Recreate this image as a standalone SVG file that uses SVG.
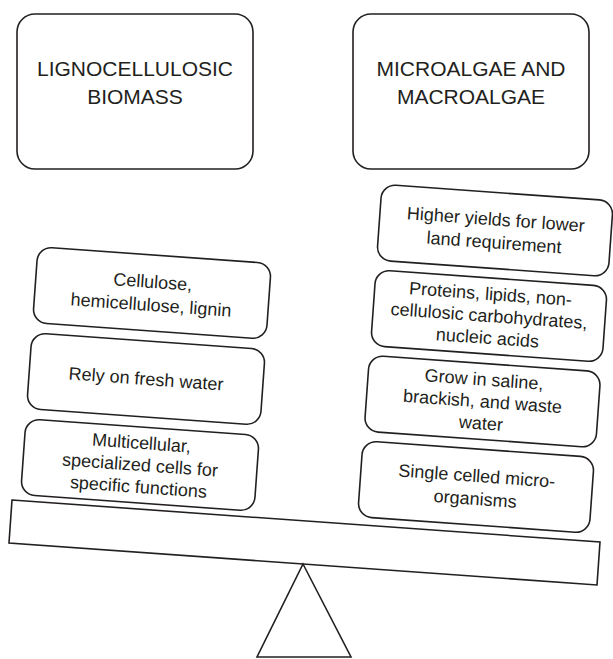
<svg xmlns="http://www.w3.org/2000/svg" width="613" height="659" viewBox="0 0 613 659">
<style>
.box{fill:#fff;stroke:#231f20;stroke-width:1.6}
.t{font-family:"Liberation Sans",Arial,sans-serif;fill:#231f20;text-anchor:middle}
.title{font-size:21px}
.s{font-size:18px}
</style>
<rect width="613" height="659" fill="#fff"/>
<g id="title-left">
<rect class="box" x="17" y="14" width="236" height="155" rx="18"/>
<text class="t title" x="135" y="76">LIGNOCELLULOSIC</text>
<text class="t title" x="135" y="104">BIOMASS</text>
</g>
<g id="title-right">
<rect class="box" x="353" y="14" width="236" height="155" rx="18"/>
<text class="t title" x="471" y="76">MICROALGAE AND</text>
<text class="t title" x="471" y="104">MACROALGAE</text>
</g>
<g id="beam">
<polygon class="box" points="12,500 600,542 597,585 9,543"/>
</g>
<g id="fulcrum">
<polygon class="box" points="303,564 351,657 257,657"/>
</g>
<g id="left-1" transform="translate(152,293) rotate(4.1)">
<rect class="box" x="-117" y="-38" width="234" height="76" rx="14"/>
<text class="t s" x="0" y="-5">Cellulose,</text>
<text class="t s" x="0" y="18">hemicellulose, lignin</text>
</g>
<g id="left-2" transform="translate(146,379) rotate(4.1)">
<rect class="box" x="-117" y="-38" width="234" height="76" rx="14"/>
<text class="t s" x="0" y="6">Rely on fresh water</text>
</g>
<g id="left-3" transform="translate(140,465) rotate(4.1)">
<rect class="box" x="-117" y="-38" width="234" height="76" rx="14"/>
<text class="t s" x="0" y="-16">Multicellular,</text>
<text class="t s" x="0" y="6">specialized cells for</text>
<text class="t s" x="0" y="28">specific functions</text>
</g>
<g id="right-1" transform="translate(495,230.5) rotate(4.1)">
<rect class="box" x="-116" y="-38" width="232" height="76" rx="14"/>
<text class="t s" x="0" y="-5">Higher yields for lower</text>
<text class="t s" x="0" y="18">land requirement</text>
</g>
<g id="right-2" transform="translate(489,316) rotate(4.1)">
<rect class="box" x="-116" y="-38" width="232" height="76" rx="14"/>
<text class="t s" x="0" y="-16">Proteins, lipids, non-</text>
<text class="t s" x="0" y="6">cellulosic carbohydrates,</text>
<text class="t s" x="0" y="28">nucleic acids</text>
</g>
<g id="right-3" transform="translate(482.5,401.5) rotate(4.1)">
<rect class="box" x="-116" y="-38" width="232" height="76" rx="14"/>
<text class="t s" x="0" y="-16">Grow in saline,</text>
<text class="t s" x="0" y="6">brackish, and waste</text>
<text class="t s" x="0" y="28">water</text>
</g>
<g id="right-4" transform="translate(476,487) rotate(4.1)">
<rect class="box" x="-116" y="-38" width="232" height="76" rx="14"/>
<text class="t s" x="0" y="-5">Single celled micro-</text>
<text class="t s" x="0" y="18">organisms</text>
</g>
<g id="connectors"/>
</svg>
